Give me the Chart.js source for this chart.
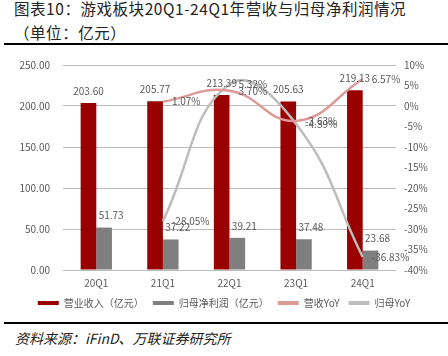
<!DOCTYPE html>
<html><head><meta charset="utf-8">
<script src="https://cdn.jsdelivr.net/npm/chart.js@4/dist/chart.umd.min.js"></script>
<style>
html,body{margin:0;padding:0;background:#fff;width:448px;height:356px;overflow:hidden;position:relative;font-family:"Noto Sans CJK SC",sans-serif;}
.t{position:absolute;left:14px;color:#222;font-size:15.5px;line-height:20px;white-space:nowrap;letter-spacing:0.55px;}
.rule{position:absolute;left:4px;width:444px;height:2.5px;background:#000;}
#src{position:absolute;left:15px;top:329px;font-size:14px;line-height:18px;font-style:italic;color:#222;white-space:nowrap;}
#wrap{position:absolute;left:0;top:46px;width:448px;height:274px;}
</style></head><body>
<div class="t" style="top:-2px">图表10：游戏板块20Q1-24Q1年营收与归母净利润情况</div>
<div class="t" style="top:22px">（单位：亿元）</div>
<div class="rule" style="top:42.5px"></div>
<div id="wrap"><canvas id="c" width="448" height="274"></canvas></div>
<div class="rule" style="top:321.5px"></div>
<div id="src">资料来源：iFinD、万联证券研究所</div>
<script>
const categories = ['20Q1','21Q1','22Q1','23Q1','24Q1'];
const revenue = [203.60, 205.77, 213.39, 205.63, 219.13];
const netProfit = [51.73, 37.22, 39.21, 37.48, 23.68];
const revenueYoY = [null, 1.07, 3.70, -3.63, 6.57];
const profitYoY = [null, -28.05, 5.32, -4.39, -36.83];
const leftTicks = [0, 50, 100, 150, 200, 250];
const rightTicks = [-40, -35, -30, -25, -20, -15, -10, -5, 0, 5, 10];

const FONT = '"Noto Sans CJK SC", sans-serif';
const TXT = '#595959';

const labelPlugin = {
  id: 'vlabels',
  afterDatasetsDraw(chart) {
    const ctx = chart.ctx;
    ctx.save();
    ctx.font = '10px ' + FONT;
    ctx.fillStyle = TXT;
    chart.data.datasets.forEach((ds, i) => {
      const meta = chart.getDatasetMeta(i);
      meta.data.forEach((el, j) => {
        const v = ds.data[j];
        if (v === null || v === undefined) return;
        if (ds.type === 'bar') {
          ctx.textAlign = 'center';
          ctx.textBaseline = 'middle';
          const off = i === 1 ? 7 : 0;
          ctx.fillText(v.toFixed(2), el.x + off, el.y - 12);
        } else {
          ctx.textAlign = 'left';
          ctx.textBaseline = 'middle';
          ctx.fillText(v.toFixed(2) + '%', el.x + 9, el.y);
        }
      });
    });
    ctx.restore();
  }
};

new Chart(document.getElementById('c'), {
  data: {
    labels: categories,
    datasets: [
      {type:'bar', label:'营业收入（亿元）', data: revenue, backgroundColor:'#990000', yAxisID:'y', order:2, legendColor:'#990000'},
      {type:'bar', label:'归母净利润（亿元）', data: netProfit, backgroundColor:'#7f7f7f', yAxisID:'y', order:2, legendColor:'#7f7f7f'},
      {type:'line', label:'营收YoY', data: revenueYoY, borderColor:'#dc9a98', backgroundColor:'#dc9a98', borderWidth:2.5, pointRadius:0, tension:0.45, yAxisID:'y1', order:1, spanGaps:true, legendColor:'#dc9a98'},
      {type:'line', label:'归母YoY', data: profitYoY, borderColor:'#bdbdbd', backgroundColor:'#bdbdbd', borderWidth:2.5, pointRadius:0, tension:0.45, yAxisID:'y1', order:1, spanGaps:true, legendColor:'#bdbdbd'}
    ]
  },
  options: {
    responsive:false,
    animation:false,
    layout:{padding:{top:14,bottom:2,left:0,right:0}},
    datasets:{bar:{categoryPercentage:0.47, barPercentage:1}},
    plugins:{
      tooltip:{enabled:false},
      legend:{
        position:'bottom',
        labels:{
          font:{size:10, family:FONT}, color:TXT, boxWidth:21, boxHeight:4, padding:9,
          generateLabels(chart){
            return chart.data.datasets.map((ds,i)=>({text:ds.label, fillStyle:ds.legendColor, strokeStyle:ds.legendColor, lineWidth:0, hidden:false, datasetIndex:i, fontColor:TXT}));
          }
        }
      }
    },
    scales:{
      x:{
        grid:{display:false, drawTicks:false}, border:{display:false},
        ticks:{font:{size:10, family:FONT}, color:TXT, padding:7},
        afterFit(s){ s.height = 19; }
      },
      y:{
        position:'left', min:0, max:250,
        afterBuildTicks(s){ s.ticks = leftTicks.map(v=>({value:v})); },
        grid:{color:'#bcbcbc', lineWidth:1, drawTicks:false}, border:{display:false},
        ticks:{font:{size:10, family:FONT}, color:TXT, padding:13, callback:v=>Number(v).toFixed(2)},
        afterFit(s){ s.width = 63; }
      },
      y1:{
        position:'right', min:-40, max:10,
        afterBuildTicks(s){ s.ticks = rightTicks.map(v=>({value:v})); },
        grid:{display:false, drawTicks:false}, border:{display:false},
        ticks:{font:{size:10, family:FONT}, color:TXT, padding:8, callback:v=>v+'%'},
        afterFit(s){ s.width = 52; }
      }
    }
  },
  plugins:[labelPlugin]
});
</script>
</body></html>
